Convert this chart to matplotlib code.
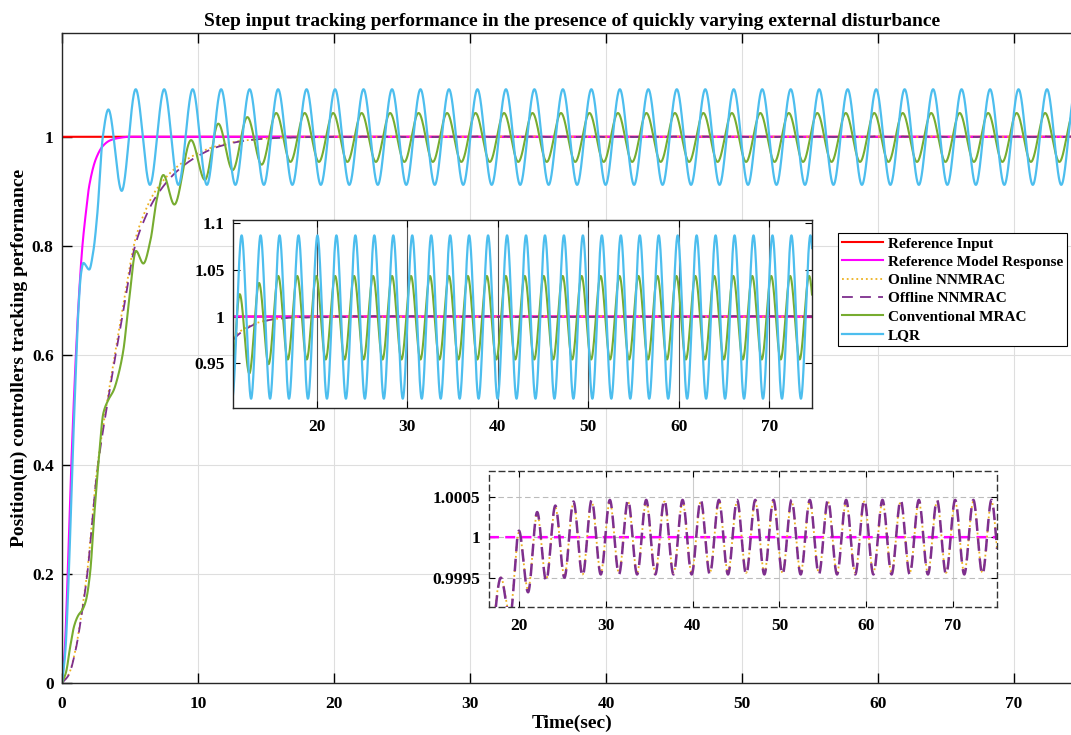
import numpy as np
import matplotlib
matplotlib.use("Agg")
import matplotlib.pyplot as plt
from matplotlib.ticker import FormatStrFormatter

plt.rcParams['font.family'] = ['Liberation Serif', 'DejaVu Serif']
plt.rcParams['font.weight'] = 'bold'
plt.rcParams['axes.labelweight'] = 'bold'
plt.rcParams['axes.titleweight'] = 'bold'

# ---------------------------------------------------------------
# Data (time in s, position in m)
# ---------------------------------------------------------------
T_END = 75.5
PERIOD = 2.094          # period of the external disturbance (peak spacing)

ref_t = [0, T_END]
ref_y = [1, 1]

model_t = [0, 0.2, 0.42, 0.7, 1.0, 1.25, 1.5, 1.75, 2.0, 2.5, 3.0, 3.5, 4.0, 5.0, T_END]
model_y = [0, 0.06, 0.2, 0.41, 0.59, 0.71, 0.80, 0.86, 0.91, 0.96, 0.983, 0.993, 0.997, 1.0, 1.0]

# LQR: transient knots, then steady oscillation
lqr_t = [0, 0.25, 0.5, 0.75, 1.0, 1.2, 1.4, 1.57, 2.0, 2.3, 2.6, 3.0, 3.41, 4.39]
lqr_y = [0, 0.06, 0.2, 0.39, 0.56, 0.68, 0.75, 0.769, 0.757, 0.79, 0.86, 1.0, 1.05, 0.901]
lqr_first_peak = 5.42
lqr_peak, lqr_trough = 1.087, 0.912

# Conventional MRAC
mrac_t = [0, 0.3, 0.6, 0.9, 1.2, 1.5, 1.75, 2.06, 2.38, 2.67, 3.04, 3.4, 3.8, 4.1, 4.51,
          4.93, 5.44, 5.98, 6.5, 6.96, 7.45, 8.26, 9.49, 10.51, 11.49, 12.55, 13.63, 14.68]
mrac_y = [0, 0.02, 0.066, 0.105, 0.124, 0.134, 0.15, 0.2, 0.31, 0.4, 0.494, 0.518, 0.536, 0.56, 0.609,
          0.70, 0.791, 0.768, 0.81, 0.884, 0.930, 0.876, 0.994, 0.921, 1.024, 0.939, 1.036, 0.949]
mrac_first_peak = 15.75
mrac_peak, mrac_trough = 1.0435, 0.954

# Offline NNMRAC
off_t = [0, 0.5, 1.0, 1.45, 1.86, 2.55, 3.53, 4.5, 5.37, 6.0, 6.9, 8.5, 10.0, 11.5, 13.5, 15.5, 16.8,
         17.9, 18.95, 19.99, 21.04, 22.09, 23.13, 24.18, 25.23, 26.27, 27.32]
off_y = [0, 0.015, 0.06, 0.126, 0.2, 0.38, 0.54, 0.68, 0.80, 0.845, 0.89, 0.938, 0.965, 0.982, 0.993,
         0.9975, 0.9986, 0.9995, 0.9990, 1.00008, 0.99932, 1.00031, 0.99946, 1.00039, 0.9995,
         1.00044, 0.99952]
off_first_peak = 28.37
off_peak, off_trough = 1.00046, 0.99954

# Online NNMRAC
on_t = [0, 0.5, 1.0, 1.45, 1.86, 2.55, 3.53, 4.5, 5.37, 6.0, 6.9, 8.5, 10.0, 11.5, 13.5, 15.5, 16.8,
        17.9, 18.95, 19.99, 21.04, 22.09, 23.13, 24.18, 25.23, 26.27, 27.32]
on_y = [0, 0.016, 0.062, 0.13, 0.205, 0.385, 0.548, 0.69, 0.81, 0.857, 0.902, 0.946, 0.97, 0.984,
        0.9935, 0.9976, 0.9987, 0.9995, 0.99905, 1.00006, 0.99935, 1.00029, 0.99948, 1.00037,
        0.99952, 1.00042, 0.99954]
on_first_peak = 28.37
on_peak, on_trough = 1.00044, 0.99956


def pchip(x, y, xs):
    """Shape-preserving cubic through the read points."""
    x = np.asarray(x, float)
    y = np.asarray(y, float)
    h = np.diff(x)
    d = np.diff(y) / h
    m = np.zeros_like(y)
    for i in range(1, len(y) - 1):
        if d[i - 1] * d[i] > 0:
            w1 = 2 * h[i] + h[i - 1]
            w2 = h[i] + 2 * h[i - 1]
            m[i] = (w1 + w2) / (w1 / d[i - 1] + w2 / d[i])
    m[0] = d[0]
    m[-1] = d[-1]
    idx = np.clip(np.searchsorted(x, xs) - 1, 0, len(h) - 1)
    s = (xs - x[idx]) / h[idx]
    h00 = 2 * s**3 - 3 * s**2 + 1
    h10 = s**3 - 2 * s**2 + s
    h01 = -2 * s**3 + 3 * s**2
    h11 = s**3 - s**2
    return h00 * y[idx] + h10 * h[idx] * m[idx] + h01 * y[idx + 1] + h11 * h[idx] * m[idx + 1]


def add_steady(t_knots, y_knots, first_peak, peak, trough):
    """Append the steady peak/trough values, one every half period."""
    tk, yk = list(t_knots), list(y_knots)
    tp, k = first_peak, 0
    while tp < T_END + PERIOD:
        tk.append(tp)
        yk.append(peak if k % 2 == 0 else trough)
        tp += PERIOD / 2
        k += 1
    return tk, yk


t = np.linspace(0, T_END, 12000)
ref = pchip(ref_t, ref_y, t)
model = pchip(model_t, model_y, t)
lqr = pchip(*add_steady(lqr_t, lqr_y, lqr_first_peak, lqr_peak, lqr_trough), t)
mrac = pchip(*add_steady(mrac_t, mrac_y, mrac_first_peak, mrac_peak, mrac_trough), t)
offline = pchip(*add_steady(off_t, off_y, off_first_peak, off_peak, off_trough), t)
online = pchip(*add_steady(on_t, on_y, on_first_peak, on_peak, on_trough), t)

C_REF = '#FF0000'
C_MODEL = '#FF00FF'
C_ON = '#EDB120'
C_OFF = '#7E2F8E'
C_MRAC = '#77AC30'
C_LQR = '#4DBEEE'

TICK_FS = 12.5
LABEL_FS = 14

W, H = 1071, 735
fig = plt.figure(figsize=(W / 100, H / 100), dpi=100)

# main axes
ax = fig.add_axes([62 / W, 52 / H, 1020 / W, 650 / H])
ax.plot(t, ref, color=C_REF, lw=1.5, label='Reference Input')
ax.plot(t, model, color=C_MODEL, lw=1.5, label='Reference Model Response')
ax.plot(t, online, color=C_ON, lw=1.3, ls=':', label='Online NNMRAC')
ax.plot(t, offline, color=C_OFF, lw=1.3, ls=(0, (6, 4)), label='Offline NNMRAC')
ax.plot(t, mrac, color=C_MRAC, lw=1.5, label='Conventional MRAC')
ax.plot(t, lqr, color=C_LQR, lw=1.6, label='LQR')
ax.set_xlim(0, 75)
ax.set_ylim(0, 1.19)
ax.set_xticks(np.arange(0, 80, 10))
ax.set_yticks([0, 0.2, 0.4, 0.6, 0.8, 1])
ax.yaxis.set_major_formatter(FormatStrFormatter('%g'))
ax.grid(True, color='#dedede', lw=0.8)
ax.tick_params(direction='in', length=7, width=1, labelsize=TICK_FS, top=True, pad=6)
ax.tick_params(axis='x', pad=9)
for s in ax.spines.values():
    s.set_color('#262626')
    s.set_linewidth(1)
ax.set_title('Step input tracking performance in the presence of quickly varying external disturbance',
             fontsize=14, pad=5)
ax.set_xlabel('Time(sec)', fontsize=LABEL_FS, labelpad=2)
ax.set_ylabel('Position(m) controllers tracking performance', fontsize=LABEL_FS, labelpad=3)

leg = ax.legend(loc='upper left', bbox_to_anchor=(838 / W, 1 - 233 / H),
                bbox_transform=fig.transFigure, prop={'size': 11, 'weight': 'bold'},
                frameon=True, fancybox=False, framealpha=1, edgecolor='black',
                borderaxespad=0, borderpad=0.25, handlelength=2.7, handletextpad=0.3,
                labelspacing=0.3)
leg.get_frame().set_linewidth(0.8)

# inset 1: zoom on the oscillations
ax1 = fig.add_axes([233 / W, (H - 408) / H, 579 / W, 188 / H])
ax1.plot(t, ref, color=C_REF, lw=1.5)
ax1.plot(t, model, color=C_MODEL, lw=1.5)
ax1.plot(t, online, color=C_ON, lw=1.3, ls=':')
ax1.plot(t, offline, color=C_OFF, lw=1.3, ls=(0, (6, 4)))
ax1.plot(t, mrac, color=C_MRAC, lw=1.5)
ax1.plot(t, lqr, color=C_LQR, lw=1.6)
ax1.set_xlim(10.75, 74.7)
ax1.set_ylim(0.902, 1.1035)
ax1.set_xticks(np.arange(20, 80, 10))
ax1.set_yticks([0.95, 1, 1.05, 1.1])
ax1.yaxis.set_major_formatter(FormatStrFormatter('%g'))
ax1.grid(True, axis='x', color='#555555', lw=0.8)
ax1.tick_params(direction='in', length=5, labelsize=TICK_FS, top=True, right=True, pad=6)
ax1.tick_params(axis='x', pad=8)
for s in ax1.spines.values():
    s.set_color('#262626')
    s.set_linewidth(1)

# inset 2: zoom on the NNMRAC responses
ax2 = fig.add_axes([489 / W, (H - 607) / H, 508 / W, 136 / H])
ax2.plot(t, model, color=C_MODEL, lw=1.8, ls=(0, (4, 2.5)))
ax2.plot(t, online, color=C_ON, lw=1.3, ls=':')
ax2.plot(t, offline, color=C_OFF, lw=1.8, ls=(0, (5, 3)))
ax2.set_xlim(16.54, 75.07)
ax2.set_ylim(0.999138, 1.000817)
ax2.set_xticks(np.arange(20, 80, 10))
ax2.set_yticks([0.9995, 1, 1.0005])
ax2.yaxis.set_major_formatter(FormatStrFormatter('%g'))
ax2.grid(True, axis='x', color='#cccccc', lw=0.8)
ax2.grid(True, axis='y', color='#bbbbbb', lw=0.8, ls=(0, (5, 3)))
ax2.tick_params(direction='in', length=4, labelsize=TICK_FS, top=True, right=True, pad=6)
ax2.tick_params(axis='x', pad=8)
for s in ax2.spines.values():
    s.set_color('#333333')
    s.set_linewidth(1)
    s.set_linestyle((0, (4, 3)))

fig.savefig('out.png', dpi=100)
